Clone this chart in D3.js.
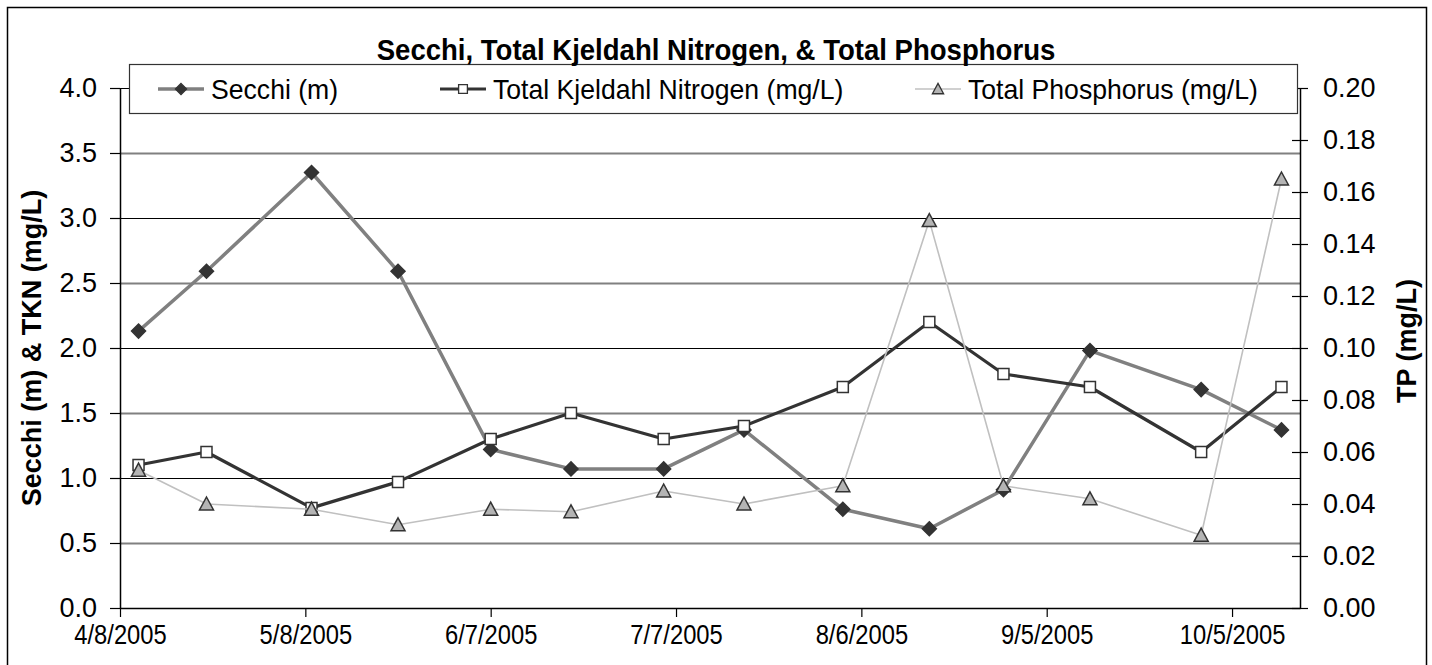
<!DOCTYPE html>
<html>
<head>
<meta charset="utf-8">
<script src="https://cdn.jsdelivr.net/npm/d3@7"></script>
<style>
  body { margin: 0; background: #fff; }
  svg { display: block; font-family: "Liberation Sans", Arial, sans-serif; }
</style>
</head>
<body>
<div id="chart"></div>
<script>
// sampling dates and values
const sampleDates = ['4/11/2005', '4/22/2005', '5/9/2005', '5/23/2005', '6/7/2005', '6/20/2005', '7/5/2005',
                     '7/18/2005', '8/3/2005', '8/17/2005', '8/29/2005', '9/12/2005', '9/30/2005', '10/13/2005'];
const secchi = [2.13, 2.59, 3.35, 2.59, 1.22, 1.07, 1.07, 1.37, 0.76, 0.61, 0.91, 1.98, 1.68, 1.37];
const tkn = [1.1, 1.2, 0.77, 0.97, 1.3, 1.5, 1.3, 1.4, 1.7, 2.2, 1.8, 1.7, 1.2, 1.7];
const tp = [0.053, 0.040, 0.038, 0.032, 0.038, 0.037, 0.045, 0.040, 0.047, 0.149, 0.047, 0.042, 0.028, 0.165];

const xDomain = ['4/8/2005', '10/16/2005'];
const xTickLabels = ['4/8/2005', '5/8/2005', '6/7/2005', '7/7/2005', '8/6/2005', '9/5/2005', '10/5/2005'];
const leftTicks = [0, 0.5, 1, 1.5, 2, 2.5, 3, 3.5, 4];
const rightTicks = [0, 0.02, 0.04, 0.06, 0.08, 0.10, 0.12, 0.14, 0.16, 0.18, 0.20];

const seriesNames = ['Secchi (m)', 'Total Kjeldahl Nitrogen (mg/L)', 'Total Phosphorus (mg/L)'];
const chartTitle = 'Secchi, Total Kjeldahl Nitrogen, & Total Phosphorus';
const leftTitle = 'Secchi (m) & TKN (mg/L)';
const rightTitle = 'TP (mg/L)';

const w = 1432;
const h = 665;
const plot = {left: 120, right: 1300, top: 88, bottom: 608};

const parseDate = d3.utcParse('%m/%d/%Y');

const svg = d3.select('#chart')
              .append('svg')
              .attr('width', w)
              .attr('height', h);

// outer chart border (bottom edge runs off the picture)
svg.append('rect')
   .attr('x', 7.5)
   .attr('y', 7.5)
   .attr('width', 1419)
   .attr('height', 700)
   .attr('fill', 'none')
   .attr('stroke', '#000')
   .attr('stroke-width', 1.5);

const xScale = d3.scaleUtc()
                 .domain(xDomain.map(parseDate))
                 .range([plot.left, plot.right]);

const yLeft = d3.scaleLinear()
                .domain([0, 4])
                .range([plot.bottom, plot.top]);

const yRight = d3.scaleLinear()
                 .domain([0, 0.2])
                 .range([plot.bottom, plot.top]);

// squeeze a text selection horizontally, the source text looks narrow
const squeeze = (sel, k) => {
    sel.each(function () {
        const len = this.getComputedTextLength();
        d3.select(this)
          .attr('textLength', len * k)
          .attr('lengthAdjust', 'spacingAndGlyphs');
    });
}

// gridlines
svg.append('g')
   .selectAll('line')
   .data(leftTicks.filter(d => d > 0))
   .join('line')
   .attr('x1', plot.left)
   .attr('x2', plot.right)
   .attr('y1', d => Math.round(yLeft(d)) + 0.5)
   .attr('y2', d => Math.round(yLeft(d)) + 0.5)
   .attr('stroke', d => d % 1 === 0 ? '#000' : '#808080')
   .attr('stroke-width', d => d % 1 === 0 ? 1 : 2);

// left axis
const leftAxis = svg.append('g')
   .attr('transform', `translate(${plot.left}, 0)`)
   .call(d3.axisLeft(yLeft)
           .tickValues(leftTicks)
           .tickFormat(d3.format('.1f'))
           .tickSize(10)
           .tickSizeOuter(0)
           .tickPadding(13));

// right axis, ticks cross the axis line
const rightAxis = svg.append('g')
   .attr('transform', `translate(${plot.right}, 0)`)
   .call(d3.axisRight(yRight)
           .tickValues(rightTicks)
           .tickFormat(d3.format('.2f'))
           .tickSize(8)
           .tickSizeOuter(0)
           .tickPadding(15));
rightAxis.selectAll('.tick line').attr('x1', -8);

// bottom axis
const bottomAxis = svg.append('g')
   .attr('transform', `translate(0, ${plot.bottom})`)
   .call(d3.axisBottom(xScale)
           .tickValues(xTickLabels.map(parseDate))
           .tickFormat(d3.utcFormat('%-m/%-d/%Y'))
           .tickSize(9)
           .tickSizeOuter(0)
           .tickPadding(8));

[leftAxis, rightAxis, bottomAxis].forEach(g => {
    g.attr('font-family', null).attr('font-size', null);
    g.select('.domain').attr('stroke', '#000').attr('stroke-width', 1.5);
    g.selectAll('.tick line').attr('stroke', '#000').attr('stroke-width', 1.2);
    g.selectAll('.tick text').attr('fill', '#000').style('font-size', '27px');
});
bottomAxis.selectAll('.tick text').call(squeeze, 0.88);

// axis titles
svg.append('text')
   .attr('transform', `translate(41, ${(plot.top + plot.bottom) / 2}) rotate(-90)`)
   .attr('text-anchor', 'middle')
   .style('font-size', '27px')
   .style('font-weight', 'bold')
   .text(leftTitle);

svg.append('text')
   .attr('transform', `translate(1416, 341) rotate(-90)`)
   .attr('text-anchor', 'middle')
   .style('font-size', '27px')
   .style('font-weight', 'bold')
   .text(rightTitle);

// marker shapes
const diamond = r => `M0,${-r}L${r},0L0,${r}L${-r},0Z`;
const square = r => `M${-r},${-r}H${r}V${r}H${-r}Z`;
const triangle = r => `M0,${-r}L${r},${r * 0.85}H${-r}Z`;

const series = [
    {name: seriesNames[0], values: secchi, y: yLeft, line: '#808080', lineWidth: 3.5,
     shape: diamond, r: 7, fill: '#333', stroke: '#333'},
    {name: seriesNames[1], values: tkn, y: yLeft, line: '#333', lineWidth: 3.2,
     shape: square, r: 5.5, fill: '#fff', stroke: '#333'},
    {name: seriesNames[2], values: tp, y: yRight, line: '#c0c0c0', lineWidth: 1.6,
     shape: triangle, r: 7, fill: '#b4b4b4', stroke: '#333'}
];

series.forEach(s => {
    const pts = s.values.map((v, i) => ({date: parseDate(sampleDates[i]), v: v}));
    const line = d3.line()
                   .x(d => xScale(d.date))
                   .y(d => s.y(d.v));

    svg.append('path')
       .datum(pts)
       .attr('d', line)
       .attr('fill', 'none')
       .attr('stroke', s.line)
       .attr('stroke-width', s.lineWidth)
       .attr('stroke-linejoin', 'round');

    svg.append('g')
       .selectAll('path')
       .data(pts)
       .join('path')
       .attr('transform', d => `translate(${xScale(d.date)}, ${s.y(d.v)})`)
       .attr('d', s.shape(s.r))
       .attr('fill', s.fill)
       .attr('stroke', s.stroke)
       .attr('stroke-width', 1.5);
});

// legend
const legendX = [158, 440, 915];
const legend = svg.append('g');

legend.append('rect')
      .attr('x', 129.5)
      .attr('y', 64.5)
      .attr('width', 1168)
      .attr('height', 49)
      .attr('fill', '#fff')
      .attr('stroke', '#333')
      .attr('stroke-width', 1.2);

const legendItems = legend.selectAll('.legendItem')
      .data(series)
      .join('g')
      .attr('class', 'legendItem')
      .attr('transform', (d, i) => `translate(${legendX[i]}, 89)`);

legendItems.append('line')
           .attr('x1', 0)
           .attr('x2', 46)
           .attr('stroke', d => d.line)
           .attr('stroke-width', d => d.lineWidth);

legendItems.append('path')
           .attr('transform', 'translate(23, 0)')
           .attr('d', d => d.shape(d.r * 0.8))
           .attr('fill', d => d.fill)
           .attr('stroke', d => d.stroke)
           .attr('stroke-width', 1.3);

legendItems.append('text')
           .attr('x', 53)
           .attr('dy', '0.36em')
           .style('font-size', '28px')
           .text(d => d.name)
           .call(squeeze, 0.95);

// title
svg.append('text')
   .attr('x', 716)
   .attr('y', 60)
   .attr('text-anchor', 'middle')
   .style('font-size', '29px')
   .style('font-weight', 'bold')
   .text(chartTitle)
   .call(squeeze, 0.95);
</script>
</body>
</html>
